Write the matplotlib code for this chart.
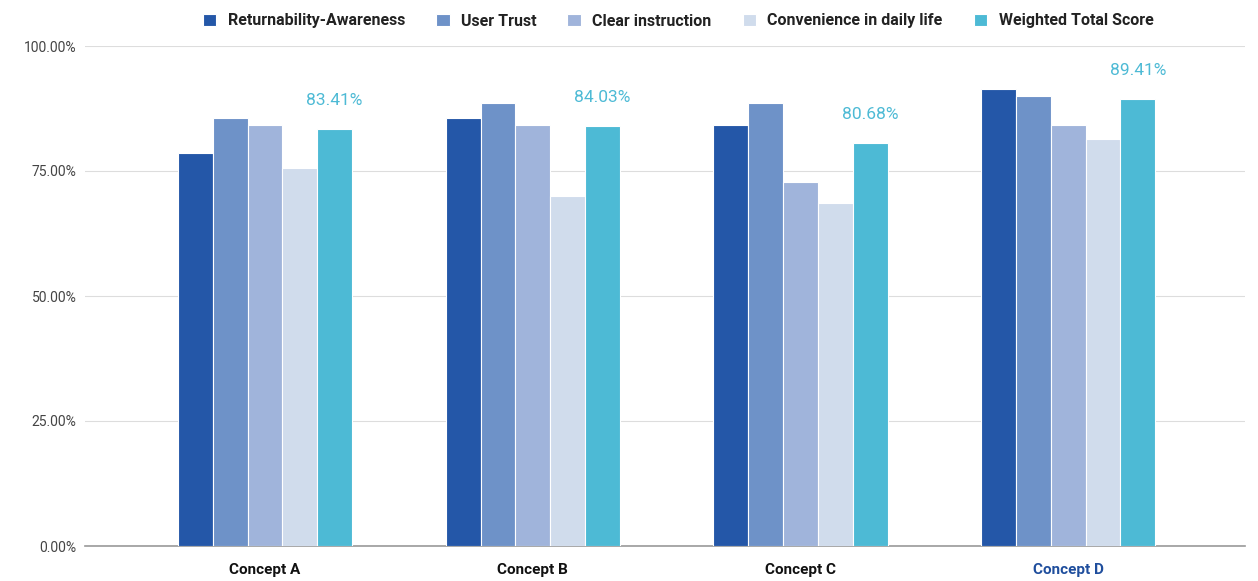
import numpy as np
import matplotlib.pyplot as plt

concepts = ['Concept A', 'Concept B', 'Concept C', 'Concept D']
series_names = ['Returnability-Awareness', 'User Trust', 'Clear instruction',
                'Convenience in daily life', 'Weighted Total Score']
returnability = [78.6, 85.6, 84.2, 91.4]
user_trust = [85.6, 88.6, 88.6, 90.0]
clear_instruction = [84.2, 84.2, 72.8, 84.2]
convenience = [75.6, 70.0, 68.6, 81.4]
weighted_total = [83.41, 84.03, 80.68, 89.41]

colors = ['#2457A8', '#6E92C8', '#A0B4DB', '#D0DCEC', '#4DBAD5']

plt.rcParams['font.family'] = ['Roboto', 'DejaVu Sans']

fig = plt.figure(figsize=(12.58, 5.81), dpi=100)
ax = fig.add_axes([85 / 1258, 35 / 581, 1160 / 1258, 500 / 581])

x = np.arange(len(concepts))
slot = 0.13
all_series = [returnability, user_trust, clear_instruction, convenience, weighted_total]
for i, (vals, name, col) in enumerate(zip(all_series, series_names, colors)):
    offs = (i - 2) * slot
    bars = ax.bar(x + offs, vals, width=slot, color=col, edgecolor='white',
                  linewidth=0.8, label=name, zorder=3)
    if i == 4:
        for b, v in zip(bars, vals):
            ax.annotate(f'{v:.2f}%', (b.get_x() + b.get_width() / 2, v),
                        xytext=(0, 15), textcoords='offset points',
                        ha='center', va='bottom', fontsize=12.5, color='#4DBAD5')

ax.set_xlim(-0.672, 3.66)
ax.set_ylim(0, 100)
ax.set_yticks([0, 25, 50, 75, 100])
ax.set_yticklabels(['0.00%', '25.00%', '50.00%', '75.00%', '100.00%'])
ax.set_xticks(x)
ax.set_xticklabels(concepts, fontsize=11, fontweight='bold')
ax.get_xticklabels()[3].set_color('#1F4E9D')
for lbl in ax.get_xticklabels()[:3]:
    lbl.set_color('#111111')
ax.tick_params(axis='x', length=0, pad=12)
ax.tick_params(axis='y', length=0, pad=6, labelsize=10, labelcolor='#444444')

ax.grid(axis='y', color='#DDDDDD', linewidth=0.8, zorder=0)
for s in ['top', 'right', 'left']:
    ax.spines[s].set_visible(False)
ax.spines['bottom'].set_color('#999999')
ax.spines['bottom'].set_linewidth(1.2)

leg = fig.legend(loc='center', bbox_to_anchor=(0.539, 1 - 21 / 581), ncol=5,
                 frameon=False, handlelength=0.85, handleheight=0.85,
                 columnspacing=1.95, handletextpad=0.7,
                 prop={'size': 11.5, 'weight': 'bold'})
for t in leg.get_texts():
    t.set_color('#222222')

fig.savefig('out.png', dpi=100)
